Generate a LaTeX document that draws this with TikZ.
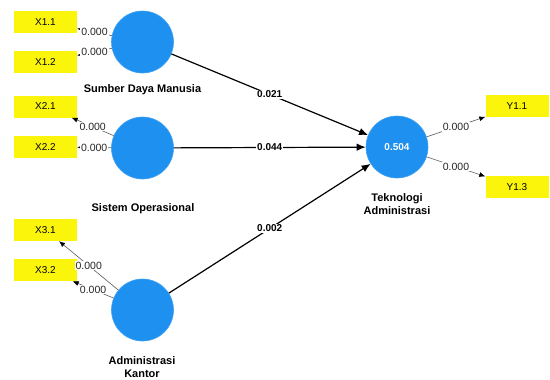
\documentclass[tikz,border=0pt]{standalone}
\usepackage{fontspec}
\setmainfont{Liberation Sans}
\usetikzlibrary{arrows.meta}
\definecolor{latblue}{RGB}{30,144,240}
\definecolor{indyel}{RGB}{250,245,10}
\definecolor{loadgray}{RGB}{90,90,90}
\begin{document}
\begin{tikzpicture}[x=1pt,y=-1pt,
  latent/.style={circle,fill=latblue,draw=latblue!85!white,line width=0.6pt,minimum size=62pt,inner sep=0pt,text=white,font=\bfseries\fontsize{10}{12}\selectfont},
  ind/.style={rectangle,fill=indyel,minimum width=63pt,minimum height=22pt,inner sep=0pt,font=\fontsize{10}{12}\selectfont},
  lname/.style={font=\bfseries\fontsize{11}{13.5}\selectfont,align=center,inner sep=1pt},
  pathc/.style={-{Latex[length=9pt,width=7.5pt]},line width=1.2pt,black},
  loadc/.style={-{Latex[length=6pt,width=5pt,black]},line width=0.6pt,loadgray},
  pcoef/.style={fill=white,inner sep=1pt,font=\bfseries\fontsize{10}{12}\selectfont,text=black},
  lcoef/.style={fill=white,inner sep=1pt,font=\fontsize{10.5}{12}\selectfont,text=black!85}
]
\useasboundingbox (0,0) rectangle (550,380);
\fill[white] (0,0) rectangle (550,380);
% latent variables
\node[latent] (sdm) at (142.5,42) {};
\node[latent] (so) at (142.5,148) {};
\node[latent] (ak) at (142.5,310) {};
\node[latent] (ta) at (397,147) {0.504};
% latent names
\node[lname] (lsdm) at (142.5,90) {Sumber Daya Manusia};
\node[lname] (lso) at (143,209) {Sistem Operasional};
\node[lname] (lak) at (142,367) {Administrasi\\Kantor};
\node[lname] (lta) at (397,204) {Teknologi\\Administrasi};
% indicators
\node[ind] (x11) at (45.5,22) {X1.1};
\node[ind] (x12) at (45.5,62) {X1.2};
\node[ind] (x21) at (45.5,106.5) {X2.1};
\node[ind] (x22) at (45.5,147) {X2.2};
\node[ind] (x31) at (45.5,230) {X3.1};
\node[ind] (x32) at (45.5,270) {X3.2};
\node[ind] (y11) at (517,106) {Y1.1};
\node[ind] (y13) at (517,187) {Y1.3};
% loadings
\draw[loadc] (sdm) -- node[lcoef]{0.000} (x11);
\draw[loadc] (sdm) -- node[lcoef]{0.000} (x12);
\draw[loadc] (so) -- node[lcoef]{0.000} (x21);
\draw[loadc] (so) -- node[lcoef]{0.000} (x22);
\draw[loadc] (ak) -- node[lcoef]{0.000} (x31);
\draw[loadc] (ak) -- node[lcoef]{0.000} (x32);
\draw[loadc] (ta) -- node[lcoef]{0.000} (y11);
\draw[loadc] (ta) -- node[lcoef]{0.000} (y13);
% paths
\draw[pathc] (sdm) -- node[pcoef]{0.021} (ta);
\draw[pathc] (so) -- node[pcoef]{0.044} (ta);
\draw[pathc] (ak) -- node[pcoef]{0.002} (ta);
\end{tikzpicture}
\end{document}
